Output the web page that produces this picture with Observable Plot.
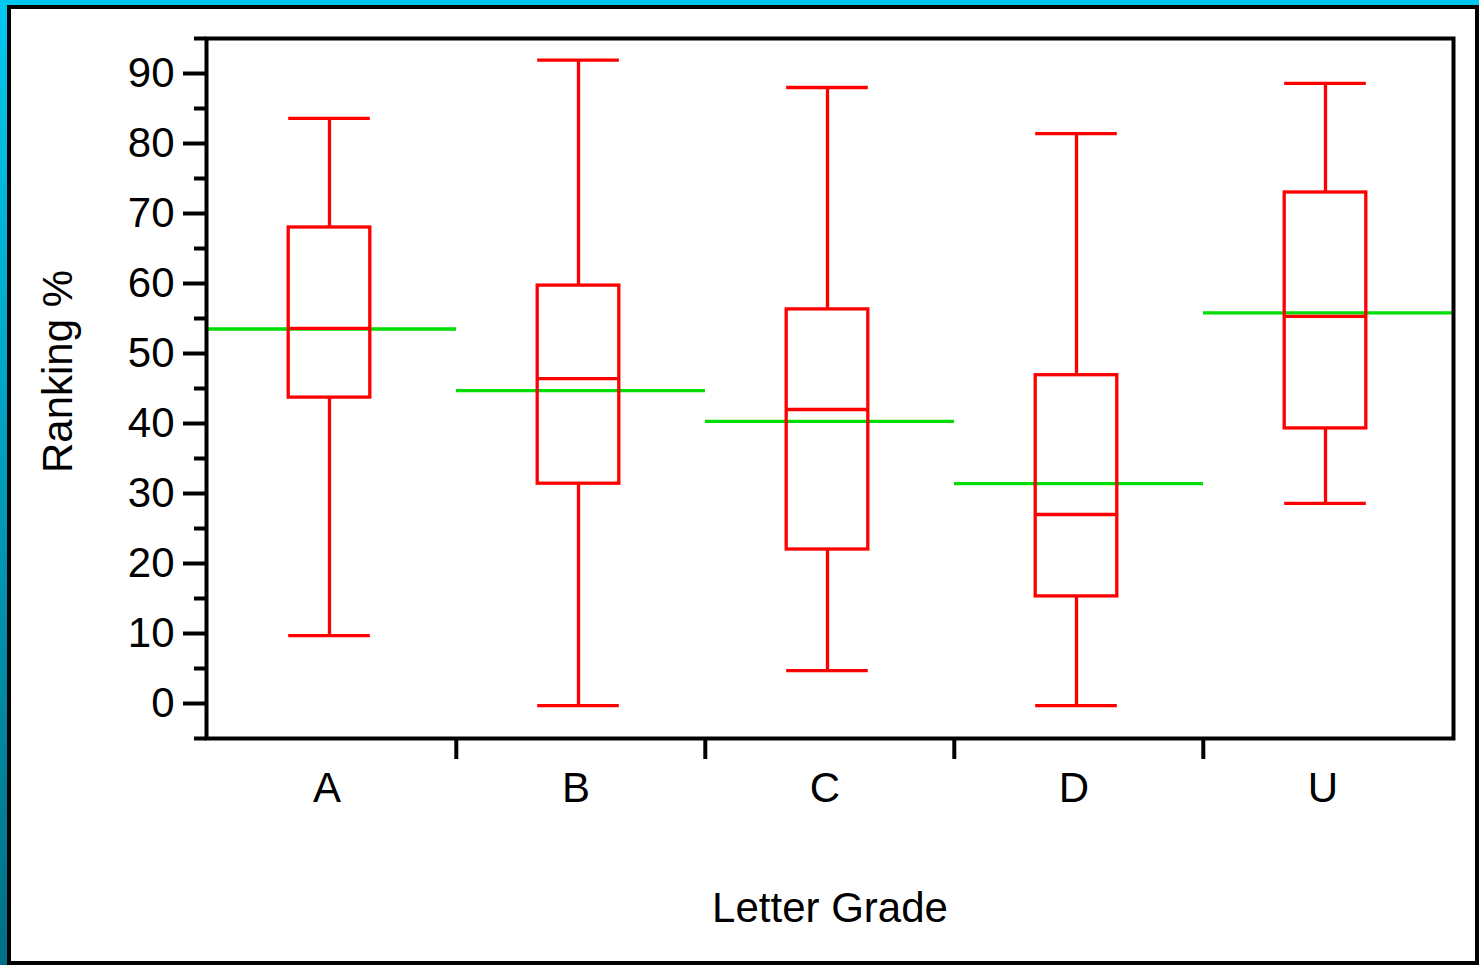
<!DOCTYPE html>
<html>
<head>
<meta charset="utf-8">
<script src="https://cdn.jsdelivr.net/npm/d3@7"></script>
<script src="https://cdn.jsdelivr.net/npm/@observablehq/plot@0.6"></script>
<style>
  html, body { margin: 0; padding: 0; width: 1479px; height: 965px; overflow: hidden; }
  body { background: linear-gradient(to bottom, #00c8f0 0%, #009dbb 50%, #007085 100%); position: relative; }
  #panel { position: absolute; left: 7px; top: 5px; width: 1472px; height: 960px; background: #fff; border: 4px solid #000; box-sizing: border-box; }
  #chart { position: absolute; left: 0; top: 0; }
</style>
</head>
<body>
<div id="panel"></div>
<div id="chart"></div>
<script>
const grades      = ["A", "B", "C", "D", "U"];
const whiskerLow  = [9.7, -0.3, 4.7, -0.3, 28.6];
const q1          = [43.7, 31.4, 22.0, 15.3, 39.3];
const median      = [53.6, 46.4, 42.0, 27.0, 55.3];
const q3          = [68.0, 59.7, 56.3, 46.9, 73.0];
const whiskerHigh = [83.6, 91.9, 88.0, 81.4, 88.6];
const mean        = [53.5, 44.7, 40.3, 31.4, 55.8];
const majorTicks  = [0, 10, 20, 30, 40, 50, 60, 70, 80, 90];
const minorTicks  = [-5, 5, 15, 25, 35, 45, 55, 65, 75, 85, 95];

const rows = grades.map((g, i) => ({
  grade: g, lo: whiskerLow[i], q1: q1[i], med: median[i], q3: q3[i], hi: whiskerHigh[i], mean: mean[i]
}));

const W = 1479, H = 965;
const mL = 206, mR = 26, mT = 38, mB = 227;
const bw = (W - mL - mR) / grades.length;
const boxInset = (bw - 82) / 2;
const boxShift = -2.5;
const red = "#ff0000", green = "#00dd00";
const sw = 3.3;
const font = "'Liberation Sans', Arial, sans-serif";

const plot = Plot.plot({
  width: W, height: H,
  marginLeft: mL, marginRight: mR, marginTop: mT, marginBottom: mB,
  style: { background: "transparent", fontFamily: font, color: "#000" },
  x: { type: "band", domain: grades, padding: 0, label: null },
  y: { domain: [-5, 95], label: null },
  marks: [
    Plot.tickY(rows, { x: "grade", y: "mean", stroke: green, strokeWidth: sw }),
    Plot.ruleX(rows, { x: "grade", y1: "q3", y2: "hi", stroke: red, strokeWidth: sw, dx: boxShift }),
    Plot.ruleX(rows, { x: "grade", y1: "lo", y2: "q1", stroke: red, strokeWidth: sw, dx: boxShift }),
    Plot.tickY(rows, { x: "grade", y: "hi", stroke: red, strokeWidth: sw, insetLeft: boxInset, insetRight: boxInset, dx: boxShift }),
    Plot.tickY(rows, { x: "grade", y: "lo", stroke: red, strokeWidth: sw, insetLeft: boxInset, insetRight: boxInset, dx: boxShift }),
    Plot.barY(rows, { x: "grade", y1: "q1", y2: "q3", fill: "none", stroke: red, strokeWidth: sw, insetLeft: boxInset, insetRight: boxInset, dx: boxShift }),
    Plot.tickY(rows, { x: "grade", y: "med", stroke: red, strokeWidth: sw, insetLeft: boxInset, insetRight: boxInset, dx: boxShift }),
    Plot.axisY(majorTicks, { tickSize: 23, tickPadding: 9, strokeWidth: 4, fontSize: 42, label: null }),
    Plot.axisY(minorTicks, { tickSize: 12, strokeWidth: 4, tickFormat: () => "", label: null }),
    Plot.axisX({ tickSize: 0, tickPadding: 34, fontSize: 42, label: null, dx: -5 }),
    Plot.axisX(grades.slice(1), { tickSize: 21, strokeWidth: 4, tickFormat: () => "", label: null, dx: -bw / 2 }),
    Plot.frame({ stroke: "#000", strokeWidth: 4 }),
    Plot.text(["Ranking %"], { frameAnchor: "left", text: d => d, rotate: -90, textAnchor: "middle", lineAnchor: "middle", fontSize: 42, dx: -148, dy: -17 }),
    Plot.text(["Letter Grade"], { frameAnchor: "bottom", text: d => d, textAnchor: "middle", lineAnchor: "middle", fontSize: 42, dy: 170 })
  ]
});
document.getElementById("chart").appendChild(plot);
</script>
</body>
</html>
